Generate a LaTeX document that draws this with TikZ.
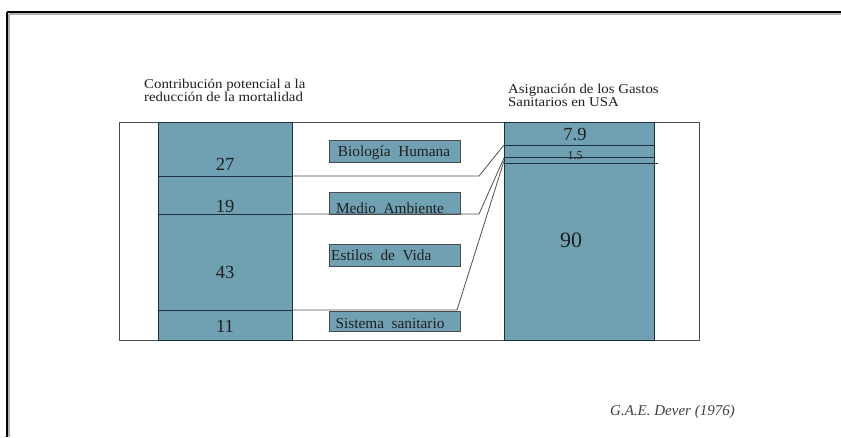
\documentclass[tikz,border=0pt]{standalone}
\usepackage{fontspec}
\setmainfont{Liberation Serif}
\newfontfamily\hdrfont[FakeStretch=1.1]{Liberation Serif}
\begin{document}
\begin{tikzpicture}[x=1pt,y=-1pt,
  barbox/.style={draw=divline, line width=0.6pt, fill=barfill, anchor=north west,
    inner sep=0pt, minimum height=218pt},
  lblbox/.style={draw=boxline, line width=0.9pt, fill=barfill, anchor=north west,
    inner sep=0pt, minimum width=131pt},
  lbltext/.style={anchor=base, inner sep=0pt, font=\fontsize{15.3}{16}\selectfont, text=black!88},
  numtext/.style={anchor=base, inner sep=0pt, font=\fontsize{18.5}{20}\selectfont, text=black!88},
  hdrtext/.style={anchor=base west, inner sep=0pt, font=\hdrfont\fontsize{13.5}{14}\selectfont, text=black!88},
  div/.style={draw=divline, line width=1pt},
  link/.style={draw=linkline, line width=0.8pt},
]
\definecolor{barfill}{RGB}{112,161,178}
\definecolor{divline}{RGB}{28,48,62}
\definecolor{boxline}{RGB}{72,76,80}
\definecolor{linkline}{RGB}{80,80,80}

\useasboundingbox (0,0) rectangle (841,437);
\fill[white] (0,0) rectangle (841,437);

% page frame (top and left edges)
\draw[gray!60, line width=1.2pt] (9,14) -- (841,14);
\draw[gray!60, line width=1.2pt] (9,14) -- (9,437);
\draw[black, line width=1.3pt] (7,12) -- (841,12);
\draw[black, line width=1.3pt] (7,12) -- (7,437);

% headers
\node[hdrtext] (hl1) at (144,88) {Contribución potencial a la};
\node[hdrtext] (hl2) at (144,101) {reducción de la mortalidad};
\node[hdrtext] (hr1) at (508,93) {Asignación de los Gastos};
\node[hdrtext] (hr2) at (508,106) {Sanitarios en USA};

% chart frame and the two bars
\node[draw=boxline, line width=0.8pt, fill=white, anchor=north west, inner sep=0pt,
  minimum width=580pt, minimum height=218pt] (frame) at (119,122) {};
\node[barbox, minimum width=134pt] (lbar) at (158,122) {};
\node[barbox, minimum width=150pt] (rbar) at (504,122) {};

% category boxes
\node[lblbox, minimum height=22pt] (bbio) at (329,140) {};
\node[lblbox, minimum height=22pt] (bmed) at (329,192) {};
\node[lblbox, minimum height=22pt] (best) at (329,244) {};
\node[lblbox, minimum height=20pt] (bsis) at (329,311) {};

\node[lbltext] (tbio) at (394,156) {Biología\ \ Humana};
\node[lbltext] (tmed) at (390,213) {Medio\ \ Ambiente};
\node[lbltext, anchor=base west] (test) at (331,260) {Estilos\ \ de\ \ Vida};
\node[lbltext] (tsis) at (390,328) {Sistema\ \ sanitario};

% break points of the connectors
\coordinate (k1) at (479,176);
\coordinate (k2) at (479,214);
\coordinate (k3) at (457,310);
\coordinate (r1) at (504,145);
\coordinate (r2) at (504,157);
\coordinate (r3) at (504,163);
\coordinate (e2) at (504,158);
\coordinate (e3) at (504,161);

% dividers inside the bars
\draw[div] (lbar.west |- k1) -- (lbar.east |- k1);
\draw[div] (lbar.west |- k2) -- (lbar.east |- k2);
\draw[div] (lbar.west |- k3) -- (lbar.east |- k3);
\draw[div] (r1) -- (rbar.east |- r1);
\draw[div] (r2) -- (rbar.east |- r2);
\draw[div] (r3) -- ([xshift=3pt]rbar.east |- r3);

% connectors from the mortality bar to the spending bar
\draw[link] (lbar.east |- k1) -- (k1) -- (r1);
\draw[link] (lbar.east |- k2) -- (k2) -- (e2);
\draw[link] (lbar.east |- k3) -- (k3) -- (e3);

% values
\node[numtext] (n27) at (225,170) {27};
\node[numtext] (n19) at (225,212) {19};
\node[numtext] (n43) at (225,278) {43};
\node[numtext] (n11) at (225,332) {11};
\node[numtext] (n79) at (575,140) {7.9};
\node[numtext, font=\fontsize{12}{13}\selectfont] (n15) at (575,159) {1.5};
\node[numtext, font=\fontsize{22}{24}\selectfont] (n90) at (571,247) {90};

% source
\node[anchor=base west, inner sep=0pt, font=\fontsize{15}{16}\selectfont\itshape, text=black!75]
  (src) at (610,415) {G.A.E. Dever (1976)};
\end{tikzpicture}
\end{document}
